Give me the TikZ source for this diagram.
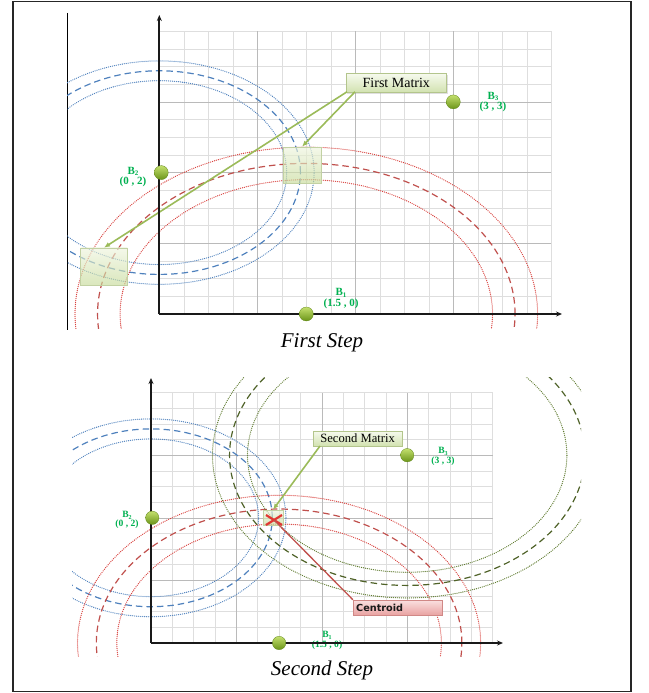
\documentclass[tikz,border=0pt]{standalone}
\usepackage{fontspec}
\setmainfont{Liberation Serif}
\newfontfamily\cfont{DejaVu Sans}
\usetikzlibrary{arrows.meta,shadows}
\definecolor{cblue}{HTML}{4F81BD}
\definecolor{cred}{HTML}{C0504D}
\definecolor{credd}{HTML}{D8403C}
\definecolor{cgreenD}{HTML}{4F6228}
\definecolor{cgreenT}{HTML}{5E7A2E}
\definecolor{lblgreen}{HTML}{00B050}
\definecolor{arrgreen}{HTML}{9BBB59}
\definecolor{gridfine}{HTML}{DEDEDE}
\definecolor{gridmajor}{HTML}{BABABA}
\definecolor{mtop}{HTML}{F6FAEE}
\definecolor{mbot}{HTML}{D2E2B0}
\definecolor{mborder}{HTML}{B3C58C}
\definecolor{sqtop}{HTML}{EEF4DE}
\definecolor{sqbot}{HTML}{C6DA98}
\definecolor{ctop}{HTML}{FAE0E0}
\definecolor{cbot}{HTML}{E9A3A2}
\definecolor{cborder}{HTML}{D08886}
\definecolor{balltop}{HTML}{C4E06E}
\definecolor{ballbot}{HTML}{6A9418}
\begin{document}
\begin{tikzpicture}[x=1pt,y=-1pt,
  frame/.style={draw=black!85, line width=1.6pt},
  fineline/.style={draw=gridfine, line width=0.6pt},
  majorline/.style={draw=gridmajor, line width=0.6pt},
  dashring/.style={line width=1.2pt, dash pattern=on 6.5pt off 4pt},
  dotring/.style={line width=1.3pt, line cap=round, dash pattern=on 0pt off 2.0pt},
  axisline/.style={draw=black!90, line width=1.8pt, -{Stealth[length=6pt,width=5pt]}},
  dotball/.style={circle, inner sep=0pt, minimum size=#1, top color=balltop, bottom color=ballbot, draw=ballbot!90!black, line width=0.3pt},
  dotball/.default=14pt,
  blbl/.style={text=lblgreen, font=\bfseries, align=center, inner sep=0pt},
  mlabel/.style={draw=mborder, line width=0.6pt, top color=mtop, bottom color=mbot,
     drop shadow={opacity=0.25, shadow xshift=1.2pt, shadow yshift=-1.2pt}, inner sep=0pt},
  mbox/.style={draw=mborder!80, line width=0.6pt, top color=sqtop, bottom color=sqbot, fill opacity=0.65, inner sep=0pt},
  cbox/.style={draw=cborder, line width=0.6pt, top color=ctop, bottom color=cbot,
     drop shadow={opacity=0.25, shadow xshift=1.2pt, shadow yshift=-1.2pt}, inner sep=3pt},
  marrow/.style={draw=arrgreen, line width=1.6pt, -{Latex[length=6pt,width=5pt]}},
  cline/.style={draw=cred, line width=1.3pt}]
\useasboundingbox (0,0) rectangle (648,693);
\draw[frame] (12.7,1.7) rectangle (631,691.5);

%%%%%%%%%%%%%%%% TOP PANEL %%%%%%%%%%%%%%%%
\draw[line width=0.8pt] (67,13) -- (67,330);
\begin{scope}[shift={(159.3,314)}, x={(98pt,0pt)}, y={(0pt,70.7pt)}]
  \foreach \i in {1,...,16} {
    \draw[fineline] (\i/4,0) -- (\i/4,4);
    \draw[fineline] (0,\i/4) -- (4,\i/4);
  }
  \foreach \i in {1,2,3} {
    \draw[majorline] (\i,0) -- (\i,4);
    \draw[majorline] (0,\i) -- (4,\i);
  }
  \coordinate (tO) at (0,0);
  \coordinate (tB1) at (1.5,0);
  \coordinate (tB2) at (0.02,2);
  \coordinate (tB3) at (3,3);
\end{scope}
\begin{scope}
  \clip (67,0) rectangle (640,328);
  \begin{scope}[shift={(159.3,314)}, x={(98pt,0pt)}, y={(0pt,70.7pt)}]
    \draw[dotring, cblue] (0,2) circle [x radius=1.58, y radius=1.58];
    \draw[dashring, cblue] (0,2) circle [x radius=1.44, y radius=1.44];
    \draw[dotring, cblue] (0,2) circle [x radius=1.30, y radius=1.30];
    \draw[dotring, credd] (1.5,0) circle [x radius=2.36, y radius=2.36];
    \draw[dashring, cred] (1.5,0) circle [x radius=2.13, y radius=2.13];
    \draw[dotring, credd] (1.5,0) circle [x radius=1.90, y radius=1.90];
  \end{scope}
\end{scope}
\node[mbox, minimum width=38pt, minimum height=36pt] (mbox1) at (302,165) {};
\node[mbox, minimum width=46.6pt, minimum height=37.7pt] (mbox2) at (104,266.8) {};
\node[mlabel, minimum width=100.5pt, minimum height=19pt, font=\fontsize{14}{16}\selectfont] (fm) at (396.3,82.8) {First Matrix};
\coordinate (fmA) at (347,91.8);
\coordinate (fmB) at (355,91.8);
\draw[marrow] (fmA) -- (mbox2.north);
\draw[marrow] (fmB) -- (mbox1.north);
\node[blbl, font=\fontsize{11}{10.5}\selectfont\bfseries] (tB3l) at (493,102) {B\raisebox{-0.35ex}{\fontsize{7}{7}\selectfont 3}\\(3 , 3)};
\node[blbl, font=\fontsize{11}{10.5}\selectfont\bfseries] (tB2l) at (133,177) {B\raisebox{-0.35ex}{\fontsize{7}{7}\selectfont 2}\\(0 , 2)};
\node[blbl, font=\fontsize{11}{10.5}\selectfont\bfseries] (tB1l) at (341,298.5) {B\raisebox{-0.35ex}{\fontsize{7}{7}\selectfont 1}\\(1.5 , 0)};
\coordinate (tXend) at (562,314);
\coordinate (tYend) at (159.3,15);
\draw[axisline] (tO) -- (tXend);
\draw[axisline] (tO) -- (tYend);
\node[dotball] (tD1) at (tB1) {};
\node[dotball] (tD2) at (tB2) {};
\node[dotball] (tD3) at (tB3) {};
\node[anchor=base, font=\fontsize{21}{24}\selectfont\itshape, inner sep=0pt] (fs) at (322,347.7) {First Step};

%%%%%%%%%%%%%%%% BOTTOM PANEL %%%%%%%%%%%%%%%%
\begin{scope}[shift={(151,643)}, x={(85.4pt,0pt)}, y={(0pt,62.6pt)}]
  \foreach \i in {1,...,16} {
    \draw[fineline] (\i/4,0) -- (\i/4,4);
    \draw[fineline] (0,\i/4) -- (4,\i/4);
  }
  \foreach \i in {1,2,3} {
    \draw[majorline] (\i,0) -- (\i,4);
    \draw[majorline] (0,\i) -- (4,\i);
  }
  \coordinate (bO) at (0,0);
  \coordinate (bB1) at (1.5,0);
  \coordinate (bB2) at (0.015,2);
  \coordinate (bB3) at (3,3);
\end{scope}
\begin{scope}
  \clip (72,377) rectangle (581,656);
  \begin{scope}[shift={(151,643)}, x={(85.4pt,0pt)}, y={(0pt,62.6pt)}]
    \draw[dotring, cblue] (0,2) circle [x radius=1.58, y radius=1.58];
    \draw[dashring, cblue] (0,2) circle [x radius=1.42, y radius=1.42];
    \draw[dotring, cblue] (0,2) circle [x radius=1.26, y radius=1.26];
    \draw[dotring, credd] (1.5,0) circle [x radius=2.36, y radius=2.36];
    \draw[dashring, cred] (1.5,0) circle [x radius=2.14, y radius=2.14];
    \draw[dotring, credd] (1.5,0) circle [x radius=1.90, y radius=1.90];
    \draw[dotring, cgreenT] (3,3) circle [x radius=2.28, y radius=2.28];
    \draw[dashring, cgreenD] (3,3) circle [x radius=2.08, y radius=2.08];
    \draw[dotring, cgreenT] (3,3) circle [x radius=1.87, y radius=1.87];
  \end{scope}
\end{scope}
\node[mbox, minimum width=20pt, minimum height=15pt] (sbox) at (273,517.5) {};
\coordinate (xmark) at (274,520);
\draw[draw={rgb,255:red,225;green,55;blue,50}, line width=2.2pt] (266,515) -- (282,525) (266,525) -- (282,515);
\node[mlabel, minimum width=88.7pt, minimum height=15pt, font=\fontsize{12.6}{14}\selectfont] (sm) at (357.6,438.5) {Second Matrix};
\coordinate (smA) at (320,446);
\draw[marrow] (smA) -- (sbox.north);
\node[cbox, text width=82.7pt, minimum height=15pt, align=left, font=\cfont\bfseries\fontsize{9.7}{11}\selectfont, text=black!90] (cen) at (397.5,607.5) {Centroid};
\draw[cline] (cen.north west) -- (xmark);
\node[blbl, font=\fontsize{9.6}{9.3}\selectfont\bfseries] (bB3l) at (443,456.5) {B\raisebox{-0.35ex}{\fontsize{6}{6}\selectfont 3}\\(3 , 3)};
\node[blbl, font=\fontsize{9.6}{9.3}\selectfont\bfseries] (bB2l) at (127,520) {B\raisebox{-0.35ex}{\fontsize{6}{6}\selectfont 2}\\(0 , 2)};
\node[blbl, font=\fontsize{9.6}{9.3}\selectfont\bfseries] (bB1l) at (327,640.5) {B\raisebox{-0.35ex}{\fontsize{6}{6}\selectfont 1}\\(1.5 , 0)};
\coordinate (bXend) at (503,643);
\coordinate (bYend) at (151,378);
\draw[axisline] (bO) -- (bXend);
\draw[axisline] (bO) -- (bYend);
\node[dotball=13.4pt] (bD1) at (bB1) {};
\node[dotball=13.4pt] (bD2) at (bB2) {};
\node[dotball=13.4pt] (bD3) at (bB3) {};
\node[anchor=base, font=\fontsize{21}{24}\selectfont\itshape, inner sep=0pt] (ss) at (322,675) {Second Step};
\end{tikzpicture}
\end{document}
